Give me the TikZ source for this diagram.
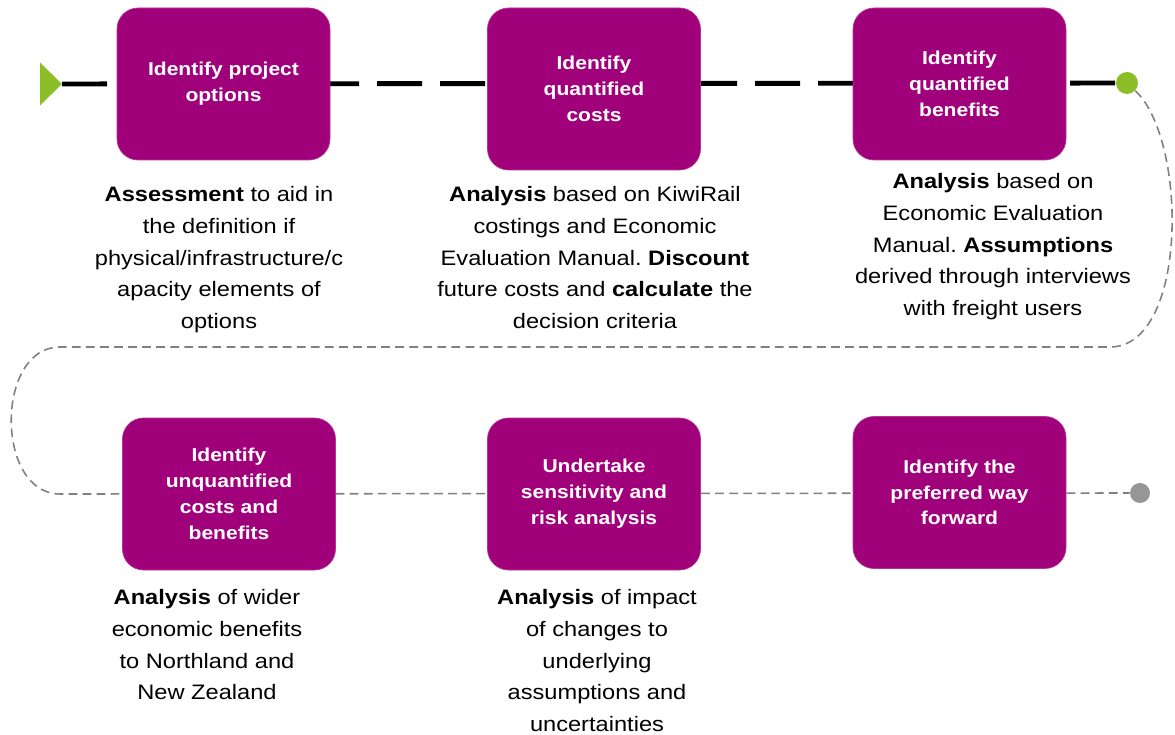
\documentclass[tikz,border=0pt]{standalone}
\usepackage{fontspec}
\setmainfont{Liberation Sans}[FakeStretch=1.13]
\usepackage{xcolor}
\usepackage{tikz}
\usetikzlibrary{positioning, backgrounds, calc}
\frenchspacing

\definecolor{kiwipurple}{RGB}{161,0,123}
\definecolor{kiwigreen}{RGB}{140,190,40}
\definecolor{trailgrey}{RGB}{128,128,128}
\definecolor{dotgrey}{RGB}{150,150,150}

\begin{document}
\begin{tikzpicture}[
  stage/.style={rectangle, rounded corners=12pt, fill=kiwipurple, draw=kiwipurple!80!white,
                text=white, font=\fontsize{10.6}{14.7}\selectfont\bfseries,
                minimum width=4.26cm, minimum height=3.04cm, align=center, inner sep=2pt},
  note/.style={anchor=north, align=center, inner sep=0pt,
               font=\fontsize{11.9}{18.1}\selectfont},
  blk/.style={line width=2.8pt, dash pattern=on 0.9cm off 0.36cm},
  gry/.style={line width=0.9pt, draw=trailgrey, dash pattern=on 5pt off 3pt},
  dot/.style={circle, inner sep=0pt}
]
\useasboundingbox (0,0) rectangle (23.5,-14.7);
%% stages (top row y=-1.68, bottom row y=-9.88)
\node[stage] (s_opt)  at (4.47, -1.68) {Identify project\\options};
\node[stage, minimum height=3.24cm] (s_cost) at (11.88, -1.78) {Identify\\quantified\\costs};
\node[stage] (s_ben)  at (19.19, -1.68) {Identify\\quantified\\benefits};
\node[stage] (s_unq)  at (4.58, -9.88) {Identify\\unquantified\\costs and\\benefits};
\node[stage] (s_sens) at (11.88, -9.88) {Undertake\\sensitivity and\\risk analysis};
\node[stage] (s_way)  at (19.19, -9.85) {Identify the\\preferred way\\forward};
%% start marker and end dots
\fill[kiwigreen] (0.8,-1.25) -- (1.24,-1.68) -- (0.8,-2.11) -- cycle;
\coordinate (p_start) at (1.24,-1.68);
\node[dot, fill=kiwigreen, minimum size=0.44cm] (d_mid) at (22.54,-1.66) {};
\node[dot, fill=dotgrey, minimum size=0.4cm]    (d_end) at (22.8,-9.86) {};
%% turning points of the grey trail
\coordinate (t_r) at (22.2,-6.94);
\coordinate (t_l) at (1.2,-6.94);
\coordinate (t_b) at (1.2,-9.88);
%% trails behind the stages
\begin{pgfonlayer}{background}
  \draw[blk] (p_start) -- (d_mid);
  \draw[gry] (d_mid) .. controls (23.76,-2.8) and (23.76,-6.94) .. (t_r) -- (t_l)
             .. controls (-0.1,-6.94) and (-0.1,-9.88) .. (t_b) -- (d_end);
\end{pgfonlayer}
%% notes
\node[note] (n_opt) at (4.38,-3.72)
  {\textbf{Assessment} to aid in\\the definition if\\physical/infrastructure/c\\apacity elements of\\options};
\node[note] (n_cost) at (11.9,-3.72)
  {\textbf{Analysis} based on KiwiRail\\costings and Economic\\Evaluation Manual. \textbf{Discount}\\future costs and \textbf{calculate} the\\decision criteria};
\node[note] (n_ben) at (19.86,-3.46)
  {\textbf{Analysis} based on\\Economic Evaluation\\Manual. \textbf{Assumptions}\\derived through interviews\\with freight users};
\node[note] (n_unq) at (4.14,-11.78)
  {\textbf{Analysis} of wider\\economic benefits\\to Northland and\\New Zealand};
\node[note] (n_sens) at (11.94,-11.78)
  {\textbf{Analysis} of impact\\of changes to\\underlying\\assumptions and\\uncertainties};
\end{tikzpicture}
\end{document}
